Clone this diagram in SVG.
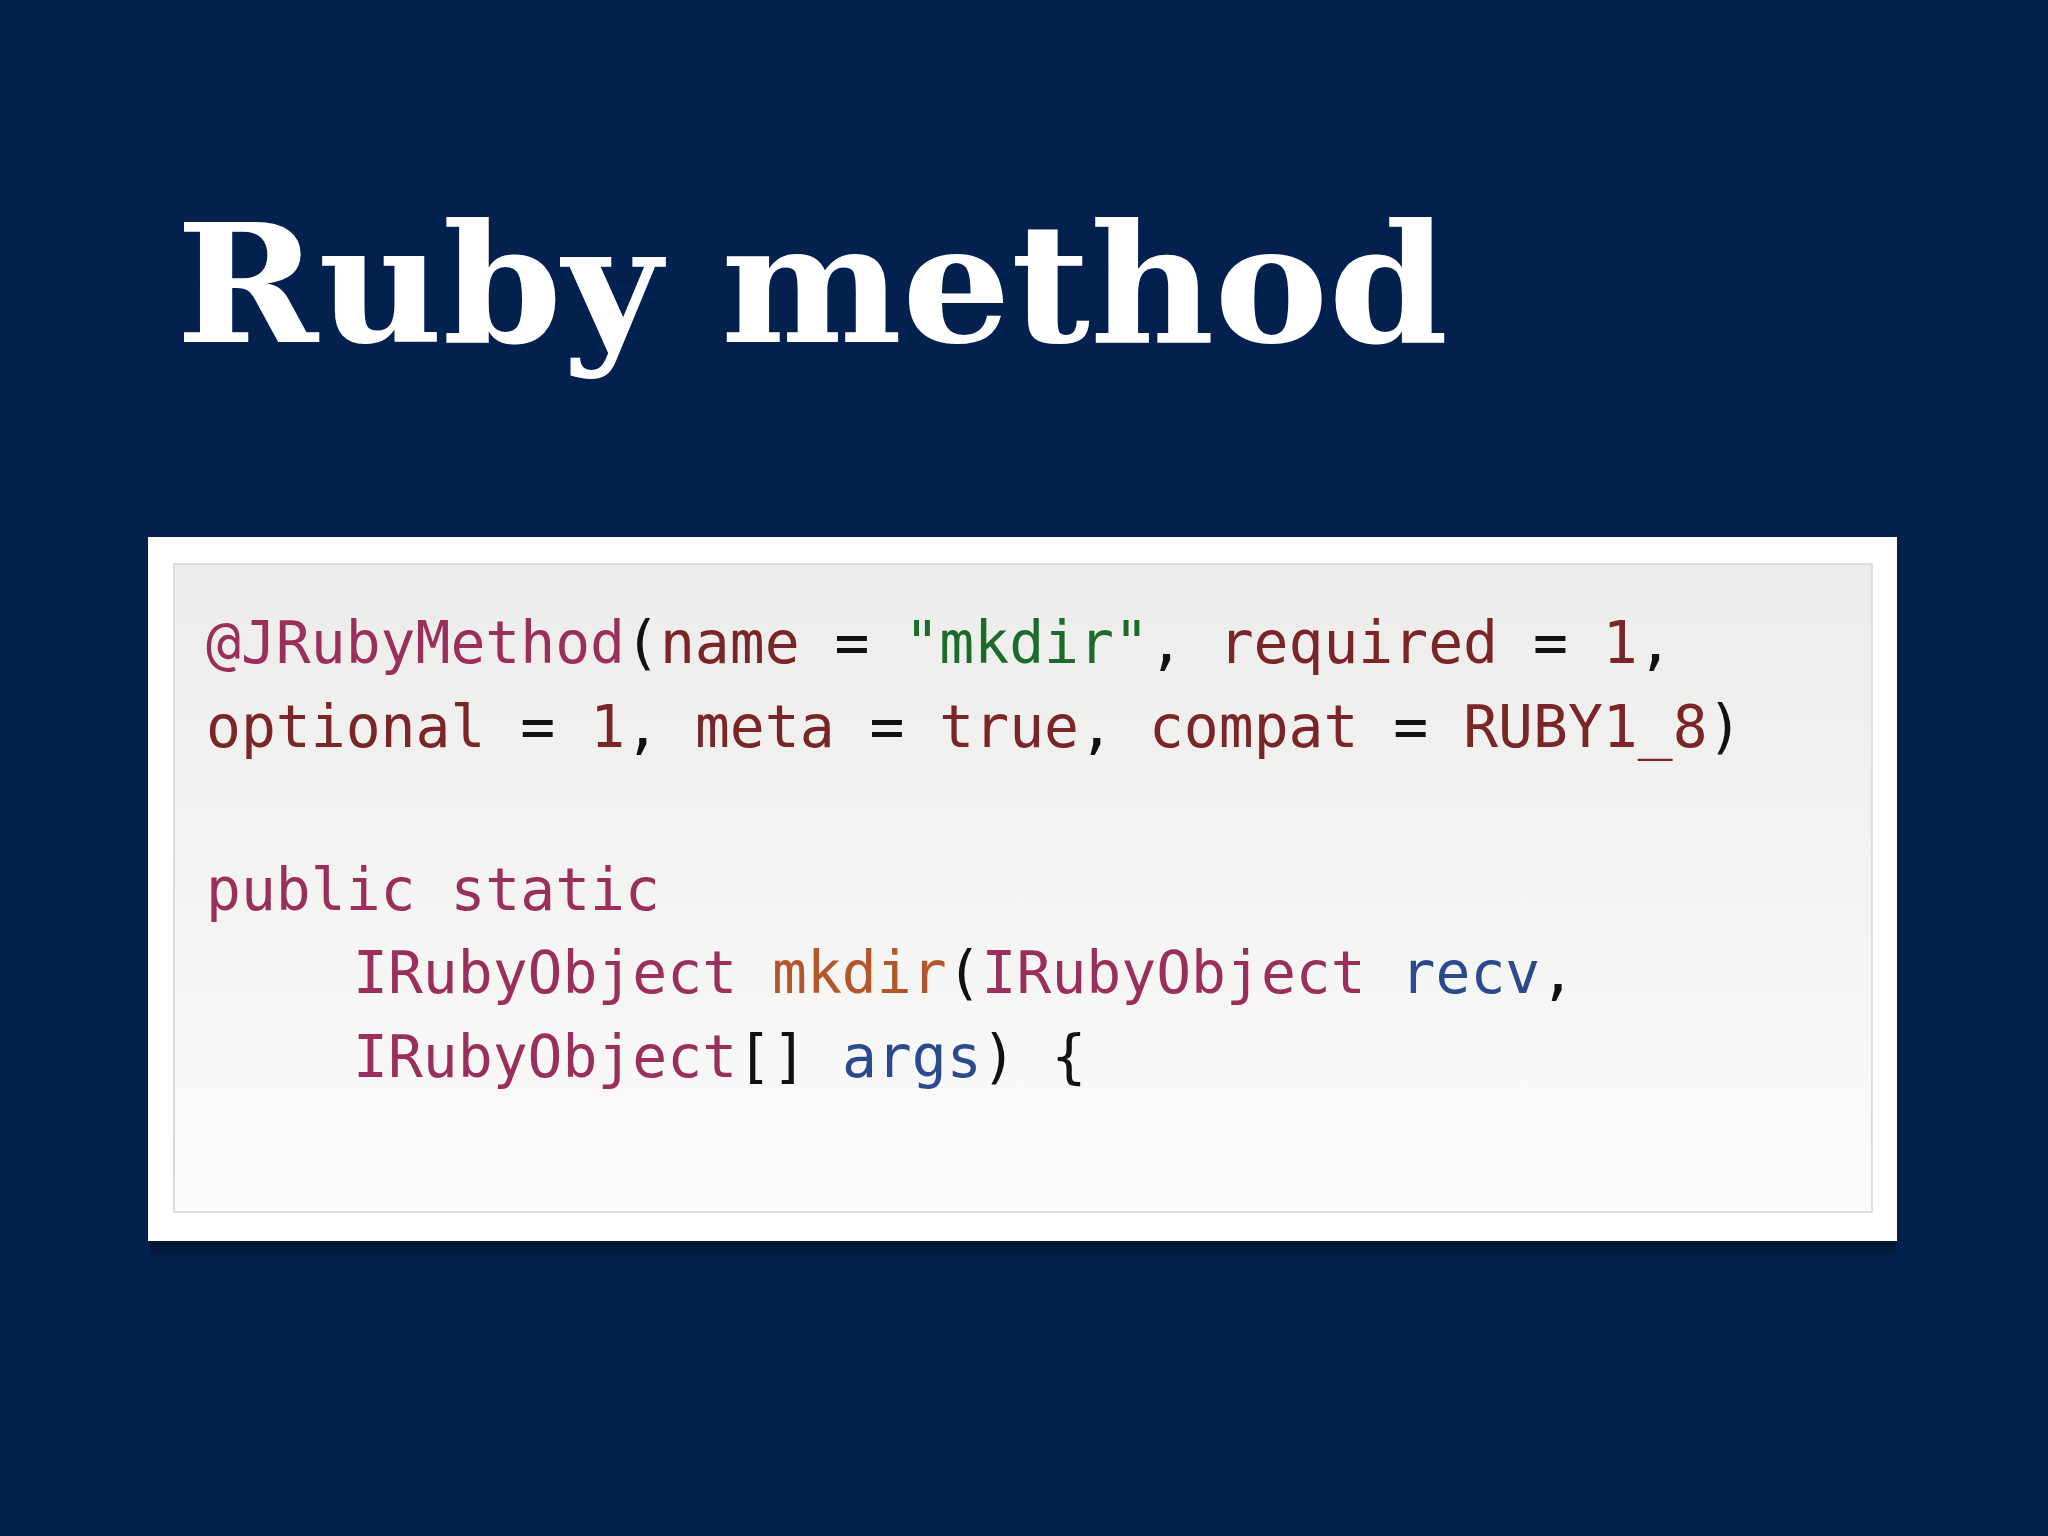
<svg xmlns="http://www.w3.org/2000/svg" width="2048" height="1536" viewBox="0 0 2048 1536">
<defs>
<linearGradient id="g" x1="0" y1="0" x2="0" y2="1"><stop offset="0" stop-color="#ececea"/><stop offset="1" stop-color="#fbfbfb"/></linearGradient>
<linearGradient id="sh" x1="0" y1="0" x2="0" y2="1"><stop offset="0" stop-color="#000" stop-opacity="0.35"/><stop offset="1" stop-color="#000" stop-opacity="0"/></linearGradient>
<style>
.c{font-family:"DejaVu Sans Mono",monospace;font-size:58px;white-space:pre}
.a{fill:#9b2f5c}.k{fill:#7a2628}.s{fill:#1d6b2c}.m{fill:#b2562c}.b{fill:#2b4a8c}.p{fill:#111}
</style>
</defs>
<rect width="2048" height="1536" fill="#03214f"/>
<text x="176" y="342" font-family="DejaVu Serif" font-weight="bold" font-size="165" fill="#fff" textLength="1272" lengthAdjust="spacingAndGlyphs">Ruby method</text>
<g id="codebox">
<rect x="150" y="1241" width="1746" height="24" fill="url(#sh)"/>
<rect x="148" y="537" width="1749" height="704" fill="#fff"/>
<rect x="174" y="564" width="1698" height="648" fill="url(#g)" stroke="#ddd" stroke-width="2"/>
<text class="c" x="206" y="663" xml:space="preserve"><tspan class="a">@JRubyMethod</tspan><tspan class="p">(</tspan><tspan class="k">name</tspan><tspan class="p"> = </tspan><tspan class="s">"mkdir"</tspan><tspan class="p">, </tspan><tspan class="k">required</tspan><tspan class="p"> = </tspan><tspan class="k">1</tspan><tspan class="p">,</tspan></text>
<text class="c" x="206" y="747" xml:space="preserve"><tspan class="k">optional</tspan><tspan class="p"> = </tspan><tspan class="k">1</tspan><tspan class="p">, </tspan><tspan class="k">meta</tspan><tspan class="p"> = </tspan><tspan class="k">true</tspan><tspan class="p">, </tspan><tspan class="k">compat</tspan><tspan class="p"> = </tspan><tspan class="k">RUBY1_8</tspan><tspan class="p">)</tspan></text>
<text class="c a" x="206" y="910">public static</text>
<text class="c" x="353" y="993" xml:space="preserve"><tspan class="a">IRubyObject</tspan><tspan class="p"> </tspan><tspan class="m">mkdir</tspan><tspan class="p">(</tspan><tspan class="a">IRubyObject</tspan><tspan class="p"> </tspan><tspan class="b">recv</tspan><tspan class="p">,</tspan></text>
<text class="c" x="353" y="1077" xml:space="preserve"><tspan class="a">IRubyObject</tspan><tspan class="p">[] </tspan><tspan class="b">args</tspan><tspan class="p">) {</tspan></text>
</g>
</svg>
